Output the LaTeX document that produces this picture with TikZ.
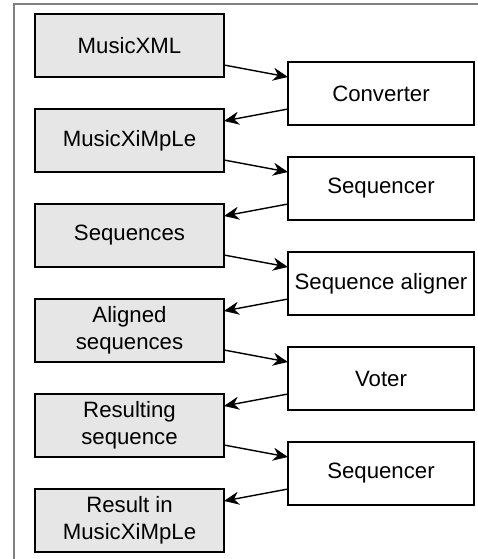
\documentclass[tikz,border=0pt]{standalone}
\usepackage{xcolor}
\usepackage{fontspec}
\setmainfont{Liberation Sans}
\usetikzlibrary{arrows.meta,positioning}
\definecolor{datafill}{RGB}{230,230,230}
\definecolor{framegray}{RGB}{128,128,128}

\begin{document}
\begin{tikzpicture}[
    node distance=16pt,
    font=\fontsize{11.1}{13.5}\selectfont,
    data/.style={rectangle, draw, line width=0.75pt, fill=datafill, minimum width=94.5pt, minimum height=31.5pt, inner sep=0pt, outer sep=0pt, align=center},
    proc/.style={rectangle, draw, line width=0.75pt, fill=white, minimum width=93pt, minimum height=31.5pt, inner sep=0pt, outer sep=0pt, align=center},
    flow/.style={-{Stealth[length=7.5pt, width=6.5pt]}, line width=0.7pt}
]
    \useasboundingbox (0,0) rectangle (239pt,-279.5pt);
    \draw[framegray, line width=0.8pt] (7pt,-290pt) -- (7pt,-2pt) -- (250pt,-2pt);

    \node[data] (xml) at (64.75pt,-22.75pt) {MusicXML};
    \node[data, below=of xml] (ximple) {MusicXiMpLe};
    \node[data, below=of ximple] (seqs) {Sequences};
    \node[data, below=of seqs] (aligned) {Aligned\\sequences};
    \node[data, below=of aligned] (result) {Resulting\\sequence};
    \node[data, below=of result] (final) {Result in\\MusicXiMpLe};

    \node[proc, right=32pt of xml, yshift=-24pt] (conv) {Converter};
    \node[proc, below=of conv] (seqr) {Sequencer};
    \node[proc, below=of seqr] (aligner) {Sequence aligner};
    \node[proc, below=of aligner] (voter) {Voter};
    \node[proc, below=of voter] (seqrb) {Sequencer};

    \draw[flow] ([yshift=-9.75pt]xml.east) -- ([yshift=8.25pt]conv.west);
    \draw[flow] ([yshift=-7.75pt]conv.west) -- ([yshift=9.75pt]ximple.east);
    \draw[flow] ([yshift=-9.75pt]ximple.east) -- ([yshift=8.25pt]seqr.west);
    \draw[flow] ([yshift=-7.75pt]seqr.west) -- ([yshift=9.75pt]seqs.east);
    \draw[flow] ([yshift=-9.75pt]seqs.east) -- ([yshift=8.25pt]aligner.west);
    \draw[flow] ([yshift=-7.75pt]aligner.west) -- ([yshift=9.75pt]aligned.east);
    \draw[flow] ([yshift=-9.75pt]aligned.east) -- ([yshift=8.25pt]voter.west);
    \draw[flow] ([yshift=-7.75pt]voter.west) -- ([yshift=9.75pt]result.east);
    \draw[flow] ([yshift=-9.75pt]result.east) -- ([yshift=8.25pt]seqrb.west);
    \draw[flow] ([yshift=-7.75pt]seqrb.west) -- ([yshift=9.75pt]final.east);
\end{tikzpicture}
\end{document}
